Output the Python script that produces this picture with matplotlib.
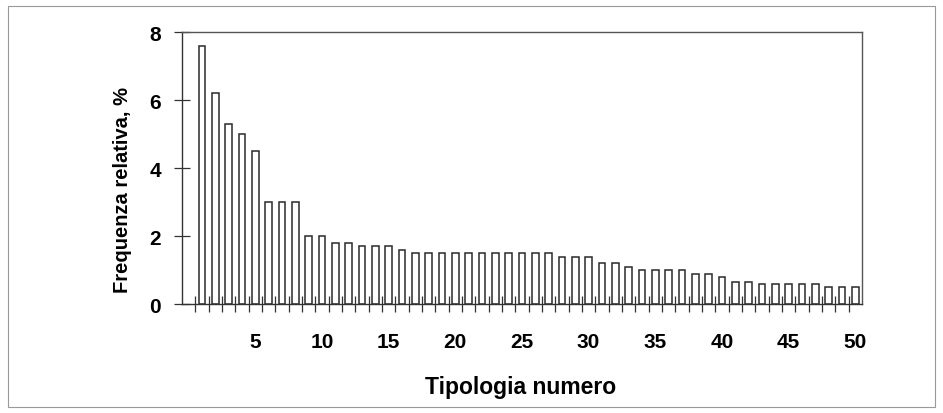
import numpy as np
import matplotlib.pyplot as plt
from matplotlib.patches import Rectangle

# Relative frequency (%) for each typology number 1..50
tipologia = list(range(1, 51))
frequenza = [7.6, 6.2, 5.3, 5.0, 4.5, 3.0, 3.0, 3.0, 2.0, 2.0,
             1.8, 1.8, 1.7, 1.7, 1.7, 1.6, 1.5, 1.5, 1.5, 1.5,
             1.5, 1.5, 1.5, 1.5, 1.5, 1.5, 1.5, 1.4, 1.4, 1.4,
             1.2, 1.2, 1.1, 1.0, 1.0, 1.0, 1.0, 0.9, 0.9, 0.8,
             0.65, 0.65, 0.6, 0.6, 0.6, 0.6, 0.6, 0.5, 0.5, 0.5]
x_labels = [5, 10, 15, 20, 25, 30, 35, 40, 45, 50]
y_ticks = [0, 2, 4, 6, 8]

plt.rcParams['font.family'] = ['Liberation Sans', 'DejaVu Sans']

fig = plt.figure(figsize=(9.43, 4.14), dpi=100)
ax = fig.add_axes([0.193, 0.263, 0.721, 0.657])

ax.bar(tipologia, frequenza, width=0.5, color='white', edgecolor='#2a2a2a',
       linewidth=1.1)

ax.set_xlim(-0.5, 50.5)
ax.set_ylim(0, 8)

# tick marks at the boundaries between categories, labels at 5, 10, ...
ax.set_xticks(np.arange(0.5, 50.5, 1.0))
ax.set_xticklabels([])
ax.set_xticks(x_labels, minor=True)
ax.set_xticklabels([str(v) for v in x_labels], minor=True)
ax.tick_params(axis='x', which='major', direction='inout', length=11,
               width=0.9, color='#333333')
ax.tick_params(axis='x', which='minor', length=0, pad=20, labelsize=15)

ax.set_yticks(y_ticks)
ax.set_yticklabels([str(v) for v in y_ticks], fontweight='bold')
ax.tick_params(axis='y', direction='inout', length=12, width=0.9,
               color='#333333', pad=9, labelsize=15)
for lbl in ax.get_xticklabels(minor=True):
  lbl.set_fontweight('bold')

for side in ['left', 'bottom']:
  ax.spines[side].set_color('#333333')
  ax.spines[side].set_linewidth(1.0)
for side in ['top', 'right']:
  ax.spines[side].set_color('#555555')
  ax.spines[side].set_linewidth(1.0)

ax.set_ylabel('Frequenza relativa, %', fontsize=14.5, fontweight='bold')
ax.yaxis.set_label_coords(-0.073, 0.423)
ax.set_xlabel('Tipologia numero', fontsize=16.5, fontweight='bold')
ax.xaxis.set_label_coords(0.498, -0.262)

# thin border around the whole picture
fig.patches.append(Rectangle((0.009, 0.015), 0.982, 0.968,
                             transform=fig.transFigure, fill=False,
                             edgecolor='#999999', linewidth=0.8))

fig.savefig('out.png', dpi=100)
